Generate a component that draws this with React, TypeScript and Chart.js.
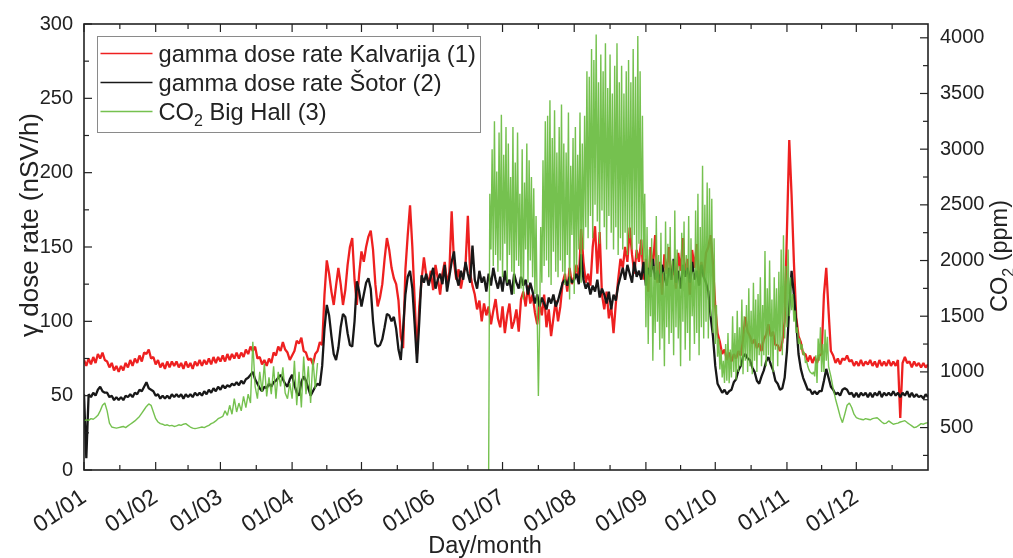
import React, { useEffect, useRef } from 'react';
import { Chart, registerables } from 'chart.js';

Chart.register(...registerables);

const FONT = '"Liberation Sans", Arial, Helvetica, sans-serif';

// x axis: day of year (0 = 1 January, 365 = end of December)
const monthStarts = [0, 31, 59, 90, 120, 151, 181, 212, 243, 273, 304, 334];
const monthLabels = ['01/01', '01/02', '01/03', '01/04', '01/05', '01/06', '01/07', '01/08', '01/09', '01/10', '01/11', '01/12'];
const yearEnd = 365;

const doseTicks = [0, 50, 100, 150, 200, 250, 300];
const co2Ticks = [500, 1000, 1500, 2000, 2500, 3000, 3500, 4000];

// gamma dose rate Kalvarija (nSv/h), one value per day from 1 January
const kalvarijaDose = [
  74, 70, 75, 71, 76, 72, 78, 75, 79, 74,
  73, 69, 72, 67, 70, 66, 70, 67, 72, 69,
  74, 70, 75, 72, 77, 73, 79, 78, 81, 75,
  76, 71, 74, 69, 72, 68, 73, 69, 73, 70,
  73, 69, 72, 68, 73, 69, 72, 68, 73, 70,
  74, 70, 74, 71, 75, 71, 76, 72, 76, 73,
  77, 73, 78, 74, 78, 75, 79, 75, 79, 76,
  81, 78, 83, 80, 83, 75, 76, 71, 74, 70,
  75, 72, 79, 77, 83, 80, 86, 81, 79, 74,
  77, 80, 87, 85, 89, 80, 79, 74, 75, 71,
  78, 80, 86, 84, 118, 141, 132, 120, 111, 124,
  136, 125, 111, 121, 138, 150, 156, 128, 111, 132,
  147, 140, 150, 157, 161, 148, 125, 110, 116, 125,
  142, 156, 148, 136, 129, 125, 114, 90, 82, 135,
  158, 178, 150, 114, 78, 110, 128, 143, 131, 126,
  134, 121, 138, 129, 118, 132, 140, 125, 133, 174,
  140, 128, 135, 122, 131, 138, 171, 132, 124, 118,
  108, 114, 100, 112, 104, 110, 98, 107, 115, 102,
  96, 110, 92, 104, 112, 95, 100, 108, 93, 115,
  120, 110, 124, 112, 118, 106, 98, 112, 104, 118,
  96, 108, 90, 102, 114, 100, 110, 126, 132, 120,
  136, 125, 130, 138, 128, 162, 140, 126, 132, 124,
  150, 164, 132, 160, 118, 108, 120, 102, 110, 92,
  112, 128, 142, 136, 150, 140, 163, 145, 132, 148,
  140, 155, 128, 142, 120, 150, 135, 158, 126, 140,
  118, 145, 132, 150, 128, 138, 122, 146, 134, 156,
  130, 142, 118, 148, 136, 152, 125, 140, 130, 146,
  150, 158, 138, 110, 92, 86, 78, 81, 74, 79,
  73, 78, 75, 80, 77, 88, 103, 93, 90, 85,
  88, 82, 85, 80, 88, 91, 98, 90, 93, 84,
  84, 80, 86, 100, 161, 222, 185, 140, 103, 90,
  86, 78, 78, 73, 77, 72, 76, 72, 77, 78,
  118, 136, 107, 80, 77, 72, 75, 71, 75, 74,
  77, 73, 74, 70, 73, 70, 74, 70, 73, 71,
  74, 70, 73, 69, 74, 70, 73, 70, 74, 70,
  73, 70, 74, 35, 72, 76, 72, 73, 69, 73,
  70, 72, 69, 72, 69, 71,
];

// gamma dose rate Šotor (nSv/h), one value per day from 1 January
const sotorDose = [
  51, 8, 51, 49, 52, 50, 54, 56, 53, 52,
  52, 49, 50, 47, 49, 47, 49, 47, 50, 49,
  51, 49, 52, 51, 54, 53, 56, 59, 55, 54,
  53, 50, 51, 48, 50, 48, 50, 48, 51, 49,
  51, 49, 51, 48, 51, 49, 51, 49, 52, 50,
  52, 50, 53, 51, 54, 52, 55, 53, 56, 54,
  57, 55, 57, 56, 58, 57, 59, 57, 60, 58,
  61, 62, 64, 66, 61, 58, 55, 53, 56, 55,
  58, 56, 59, 60, 62, 64, 61, 58, 56, 61,
  64, 57, 52, 50, 59, 63, 60, 55, 50, 53,
  56, 58, 57, 70, 95, 111, 104, 90, 78, 74,
  82, 96, 105, 103, 92, 84, 83, 100, 127, 120,
  110, 118, 126, 129, 122, 100, 85, 83, 84, 88,
  96, 105, 104, 100, 103, 95, 81, 74, 95, 118,
  130, 134, 122, 98, 72, 100, 131, 126, 132, 124,
  130, 136, 122, 128, 132, 125, 138, 120, 130, 140,
  147, 130, 124, 134, 128, 140, 132, 126, 151, 128,
  122, 134, 126, 130, 120, 132, 124, 136, 128, 122,
  130, 120, 134, 124, 128, 118, 132, 126, 122, 130,
  124, 128, 118, 126, 120, 112, 118, 110, 116, 112,
  108, 116, 112, 118, 110, 114, 120, 126, 128, 124,
  130, 126, 128, 132, 125, 145, 128, 122, 126, 118,
  124, 120, 128, 116, 122, 118, 112, 120, 108, 118,
  114, 124, 130, 136, 128, 138, 132, 126, 140, 130,
  134, 128, 140, 124, 136, 130, 142, 128, 134, 126,
  138, 130, 124, 136, 128, 142, 126, 134, 122, 138,
  130, 136, 126, 140, 128, 134, 124, 138, 130, 126,
  120, 103, 90, 70, 58, 55, 52, 54, 51, 53,
  54, 59, 61, 67, 70, 76, 78, 75, 74, 69,
  66, 60, 58, 63, 67, 73, 76, 71, 67, 60,
  58, 54, 55, 62, 80, 110, 134, 118, 100, 78,
  68, 62, 58, 54, 54, 51, 53, 51, 53, 53,
  60, 68, 62, 56, 54, 51, 52, 50, 54, 55,
  54, 51, 52, 49, 52, 49, 52, 50, 52, 49,
  52, 49, 52, 50, 53, 49, 52, 50, 52, 50,
  53, 50, 52, 49, 52, 50, 53, 49, 52, 49,
  51, 49, 50, 48, 51, 49,
];

// CO2 in the Big Hall (ppm). Three recorded stretches; the sensor was off in between.
// winter / spring: one value per day from day 0
const co2SpringStart = 0;
const co2Spring = [
  560, 570, 565, 580, 575, 590, 610, 650, 700, 720,
  650, 540, 505, 500, 495, 500, 505, 510, 500, 515,
  530, 545, 560, 580, 600, 630, 660, 690, 712, 700,
  640, 580, 550, 535, 530, 520, 525, 515, 520, 510,
  515, 525, 520, 530, 535, 520, 505, 495, 491, 495,
  500, 505, 500, 510, 520, 535, 545, 560, 580, 590,
  600, 650, 610, 700, 620, 760, 640, 720, 650, 780,
  680, 800, 720, 1270, 870, 760, 1000, 820, 1075, 780,
  950, 800, 1050, 760, 1000, 870, 1040, 810, 760, 900,
  760, 1100, 700, 1000, 680, 1137, 800, 1050, 720, 1120,
  850, 1080,
];

// summer / autumn: two values per day from day 175
const co2SummerStart = 175;
const co2SummerStep = 0.5;
const co2Summer = [
  110, 2600, 2100, 3000, 1950, 3250, 2050, 2800, 1900, 3150,
  2000, 3310, 1850, 2950, 2150, 3200, 1800, 3050, 2050, 2750,
  1900, 3200, 1700, 2880, 2000, 3150, 1950, 2600, 1750, 3000,
  1650, 2700, 2100, 3050, 1800, 2900, 2000, 2750, 1850, 2650,
  1700, 2400, 1500, 783, 1400, 2300, 1800, 2900, 1950, 3250,
  2000, 3300, 1850, 3440, 1780, 3100, 2080, 3350, 1900, 2970,
  1850, 3200, 2000, 3400, 1900, 3050, 1780, 2970, 2050, 3330,
  1650, 2850, 2230, 3100, 1700, 3200, 1900, 2950, 2100, 3330,
  1800, 3050, 2100, 3300, 2300, 3700, 2200, 3650, 2400, 3900,
  2200, 3800, 2500, 4030, 2350, 3600, 2150, 3850, 2450, 3700,
  2300, 3950, 2100, 3550, 2400, 3850, 2250, 3500, 2100, 3750,
  2300, 3950, 2050, 3600, 2200, 3750, 2100, 3500, 2250, 3700,
  2050, 3800, 2200, 3600, 2100, 3900, 2230, 3650, 2020, 4016,
  2150, 3700, 2050, 3300, 2000, 2600, 1400, 2300, 1250, 2100,
  1500, 2200, 1100, 1950, 1350, 2400, 1450, 2050, 1200, 2250,
  1300, 1900, 1050, 2350, 1400, 2150, 1250, 2300, 1350, 2000,
  1150, 2450, 1400, 2100, 1300, 1950, 1050, 2250, 1450, 2350,
  1200, 2050, 1350, 2400, 1100, 2200, 1500, 1900, 1250, 2450,
  1350, 2600, 1150, 2300, 1400, 2850, 1300, 2500, 1450, 2700,
  1300, 2650, 1500, 2555, 1350, 2200, 1250, 1600, 1137, 1300,
  1022, 1200, 950, 1100, 900, 1250, 920, 1350, 898, 1200,
  950, 1500, 1000, 1350, 930, 1550, 1000, 1400, 1050, 1650,
  980, 1500, 1100, 1600, 1000, 1750, 1050, 1550, 980, 1800,
  1100, 1650, 1000, 1700, 1150, 1850, 1050, 1600, 1150, 2085,
  1050, 1750, 1150, 2000, 1100, 1650, 1000, 1850, 1200, 1750,
  1050, 1900, 1200, 2100, 1150, 2227, 1300, 1950, 1400, 2100,
  1500, 1850, 1554, 1700, 1450, 1550, 1350, 1400, 1250, 1300,
  1200, 1250, 1150, 1180, 1080, 1100, 1050, 1020, 1000, 990,
  980, 1000, 960, 1150, 900, 1300, 1100, 1400, 1000, 1250,
  1000, 1380, 1100, 1315, 1050,
];

// early winter: one value per day from day 323
const co2WinterStart = 323;
const co2Winter = [
  960, 850, 757, 680, 600, 544, 620,
  700, 721, 680, 620, 590, 580, 575, 570, 580, 575,
  570, 580, 585, 588, 570, 550, 535, 540, 560, 545,
  530, 535, 540, 550, 556, 562, 545, 530, 515, 500,
  505, 520, 535, 530, 540, 544,
];

const RED = 'rgb(238, 32, 32)';
const BLACK = 'rgb(24, 24, 24)';
const GREEN = 'rgba(102, 186, 60, 0.9)';
const INK = '#222';

type Pt = { x: number; y: number | null };
const series = (values: number[], start: number, step = 1): Pt[] => values.map((v, i) => ({ x: start + i * step, y: v }));

// the CO2 stretches joined with a break marker between the spring and summer records
const co2Points: Pt[] = [
  ...series(co2Spring, co2SpringStart),
  { x: co2SpringStart + co2Spring.length, y: null },
  ...series(co2Summer, co2SummerStart, co2SummerStep),
  ...series(co2Winter, co2WinterStart),
];

// draws text with an optional subscript part: [["CO"], ["2", true], [" (ppm)"]]
function drawRichText(ctx: CanvasRenderingContext2D, parts: [string, boolean?][], x: number, y: number, size: number, align: 'left' | 'center') {
  const big = `${size}px ${FONT}`;
  const small = `${Math.round(size * 0.66)}px ${FONT}`;
  let width = 0;
  parts.forEach(([t, sub]) => {
    ctx.font = sub ? small : big;
    width += ctx.measureText(t).width;
  });
  let cx = align === 'center' ? x - width / 2 : x;
  ctx.textAlign = 'left';
  ctx.textBaseline = 'alphabetic';
  parts.forEach(([t, sub]) => {
    ctx.font = sub ? small : big;
    ctx.fillText(t, cx, sub ? y + size * 0.28 : y);
    cx += ctx.measureText(t).width;
  });
}

const TICK_MAJOR = 8;
const TICK_MINOR = 5;

const frameAndLabels = {
  id: 'frameAndLabels',
  afterDraw(chart: any) {
    const { ctx, chartArea: a, scales } = chart;
    const sx = scales.x;
    const sl = scales.yDose;
    const sr = scales.yCo2;
    ctx.save();
    ctx.strokeStyle = INK;
    ctx.lineWidth = 1.2;
    const seg = (x1: number, y1: number, x2: number, y2: number) => {
      ctx.beginPath();
      ctx.moveTo(x1, y1);
      ctx.lineTo(x2, y2);
      ctx.stroke();
    };
    const bounds = [...monthStarts, yearEnd];
    monthStarts.forEach((d, i) => {
      const px = sx.getPixelForValue(d);
      seg(px, a.bottom, px, a.bottom - TICK_MAJOR);
      seg(px, a.top, px, a.top + TICK_MAJOR);
      const mx = sx.getPixelForValue((d + bounds[i + 1]) / 2);
      seg(mx, a.bottom, mx, a.bottom - TICK_MINOR);
      seg(mx, a.top, mx, a.top + TICK_MINOR);
    });
    for (let v = 0; v <= 300; v += 25) {
      const py = sl.getPixelForValue(v);
      seg(a.left, py, a.left + (v % 50 === 0 ? TICK_MAJOR : TICK_MINOR), py);
    }
    for (let v = 250; v <= 4000; v += 250) {
      const py = sr.getPixelForValue(v);
      seg(a.right, py, a.right - (v % 500 === 0 ? TICK_MAJOR : TICK_MINOR), py);
    }
    ctx.lineWidth = 1.6;
    ctx.strokeRect(a.left, a.top, a.right - a.left, a.bottom - a.top);

    // legend
    const lx = a.left + 13.5;
    const ly = a.top + 12.5;
    ctx.fillStyle = '#fff';
    ctx.fillRect(lx, ly, 383, 96);
    ctx.strokeStyle = '#8a8a8a';
    ctx.lineWidth = 1;
    ctx.strokeRect(lx, ly, 383, 96);
    const rows: [string, [string, boolean?][]][] = [
      [RED, [['gamma dose rate Kalvarija (1)']]],
      [BLACK, [['gamma dose rate Šotor (2)']]],
      [GREEN, [['CO'], ['2', true], [' Big Hall (3)']]],
    ];
    rows.forEach(([color, parts], i) => {
      const ry = ly + 17 + i * 29;
      ctx.strokeStyle = color;
      ctx.lineWidth = 1.5;
      seg(lx + 3, ry, lx + 55, ry);
      ctx.fillStyle = INK;
      drawRichText(ctx, parts, lx + 61, ry + 8, 23.7, 'left');
    });

    // axis titles
    ctx.fillStyle = INK;
    ctx.save();
    ctx.translate(38, a.top + 201);
    ctx.rotate(-Math.PI / 2);
    drawRichText(ctx, [['γ dose rate (nSV/h)']], 0, 0, 26, 'center');
    ctx.restore();
    ctx.save();
    ctx.translate(1007, a.top + 232);
    ctx.rotate(-Math.PI / 2);
    drawRichText(ctx, [['CO'], ['2', true], [' (ppm)']], 0, 0, 23.5, 'center');
    ctx.restore();
    drawRichText(ctx, [['Day/month']], 485, 553, 23.5, 'center');
    ctx.restore();
  },
};

export default function App() {
  const canvasRef = useRef<HTMLCanvasElement>(null);

  useEffect(() => {
    const canvas = canvasRef.current;
    if (!canvas) return;
    const tickFont = { family: FONT, size: 20 };
    const chart = new Chart(canvas, {
      type: 'line',
      data: {
        datasets: [
          {
            label: 'gamma dose rate Kalvarija (1)',
            data: series(kalvarijaDose, 0),
            borderColor: RED,
            borderWidth: 2.3,
            yAxisID: 'yDose',
            order: 3,
          },
          {
            label: 'gamma dose rate Šotor (2)',
            data: series(sotorDose, 0),
            borderColor: BLACK,
            borderWidth: 2.3,
            yAxisID: 'yDose',
            order: 2,
          },
          {
            label: 'CO2 Big Hall (3)',
            data: co2Points,
            borderColor: GREEN,
            borderWidth: 1.4,
            yAxisID: 'yCo2',
            spanGaps: false,
            order: 1,
          },
        ],
      },
      options: {
        responsive: false,
        animation: false,
        layout: { padding: { top: 18, left: 0, right: 0, bottom: 0 } },
        elements: { point: { radius: 0 }, line: { tension: 0, borderJoinStyle: 'bevel' } },
        plugins: { legend: { display: false }, tooltip: { enabled: false } },
        scales: {
          x: {
            type: 'linear',
            min: 0,
            max: yearEnd,
            grid: { display: false, drawTicks: false },
            border: { display: false },
            afterBuildTicks: (s: any) => {
              s.ticks = monthStarts.map((v) => ({ value: v }));
            },
            afterFit: (s: any) => {
              s.height = 88;
            },
            ticks: {
              autoSkip: false,
              minRotation: 34,
              maxRotation: 34,
              padding: 14,
              color: INK,
              font: { family: FONT, size: 23 },
              callback: (_v: any, i: number) => monthLabels[i],
            },
          },
          yDose: {
            type: 'linear',
            position: 'left',
            min: 0,
            max: 300,
            grid: { display: false, drawTicks: false },
            border: { display: false },
            afterBuildTicks: (s: any) => {
              s.ticks = doseTicks.map((v) => ({ value: v }));
            },
            afterFit: (s: any) => {
              s.width = 84;
            },
            ticks: { padding: 11, color: INK, font: tickFont, callback: (v: any) => String(v) },
          },
          yCo2: {
            type: 'linear',
            position: 'right',
            min: 119,
            max: 4124,
            grid: { display: false, drawTicks: false },
            border: { display: false },
            afterBuildTicks: (s: any) => {
              s.ticks = co2Ticks.map((v) => ({ value: v }));
            },
            afterFit: (s: any) => {
              s.width = 85;
            },
            ticks: { padding: 12, color: INK, font: tickFont, callback: (v: any) => String(v) },
          },
        },
      },
      plugins: [frameAndLabels],
    });
    return () => chart.destroy();
  }, []);

  return (
    <div style={{ position: 'absolute', left: 0, top: 0, width: 1013, height: 558, background: '#fff' }}>
      <canvas ref={canvasRef} width={1013} height={558} style={{ display: 'block' }} />
    </div>
  );
}
